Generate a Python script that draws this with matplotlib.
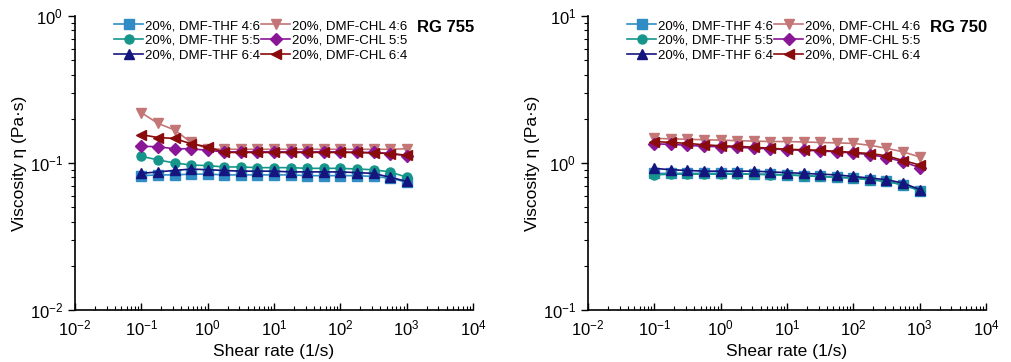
import matplotlib.pyplot as plt
from matplotlib.ticker import LogLocator, NullFormatter

plt.rcParams['font.family'] = ['Liberation Sans', 'DejaVu Sans']

shear_rate = [0.1, 0.178, 0.316, 0.562, 1, 1.78, 3.16, 5.62, 10, 17.8,
              31.6, 56.2, 100, 178, 316, 562, 1000]

labels = ['20%, DMF-THF 4:6', '20%, DMF-THF 5:5', '20%, DMF-THF 6:4',
          '20%, DMF-CHL 4:6', '20%, DMF-CHL 5:5', '20%, DMF-CHL 6:4']
colors = ['#2f8cc4', '#16968a', '#15157f', '#c47676', '#8a1596', '#8a0b0b']
markers = ['s', 'o', '^', 'v', 'D', '<']

# RG 755
rg755 = [
    [0.082, 0.083, 0.083, 0.084, 0.084, 0.083, 0.083, 0.083, 0.083, 0.083,
     0.082, 0.082, 0.082, 0.082, 0.081, 0.079, 0.074],
    [0.111, 0.105, 0.100, 0.097, 0.096, 0.094, 0.094, 0.093, 0.093, 0.093,
     0.092, 0.092, 0.092, 0.091, 0.090, 0.087, 0.080],
    [0.085, 0.087, 0.089, 0.091, 0.090, 0.089, 0.088, 0.088, 0.088, 0.087,
     0.087, 0.087, 0.087, 0.086, 0.085, 0.080, 0.075],
    [0.220, 0.186, 0.168, 0.138, 0.125, 0.124, 0.124, 0.124, 0.124, 0.124,
     0.124, 0.124, 0.124, 0.124, 0.124, 0.124, 0.125],
    [0.130, 0.129, 0.125, 0.125, 0.122, 0.119, 0.119, 0.119, 0.119, 0.119,
     0.119, 0.119, 0.119, 0.118, 0.118, 0.116, 0.112],
    [0.156, 0.149, 0.147, 0.135, 0.129, 0.118, 0.118, 0.118, 0.118, 0.118,
     0.118, 0.118, 0.118, 0.118, 0.117, 0.116, 0.113],
]

# RG 750
rg750 = [
    [0.85, 0.85, 0.85, 0.85, 0.85, 0.85, 0.84, 0.84, 0.83, 0.82,
     0.81, 0.80, 0.79, 0.77, 0.75, 0.71, 0.65],
    [0.83, 0.84, 0.84, 0.84, 0.84, 0.84, 0.84, 0.83, 0.83, 0.82,
     0.81, 0.80, 0.79, 0.77, 0.75, 0.71, 0.65],
    [0.92, 0.90, 0.89, 0.88, 0.88, 0.88, 0.88, 0.87, 0.86, 0.85,
     0.84, 0.83, 0.81, 0.79, 0.77, 0.73, 0.66],
    [1.47, 1.46, 1.45, 1.44, 1.43, 1.42, 1.41, 1.40, 1.40, 1.39,
     1.38, 1.37, 1.36, 1.32, 1.26, 1.19, 1.10],
    [1.35, 1.34, 1.32, 1.30, 1.29, 1.28, 1.26, 1.25, 1.23, 1.22,
     1.21, 1.19, 1.17, 1.14, 1.09, 1.02, 0.93],
    [1.40, 1.38, 1.36, 1.33, 1.31, 1.30, 1.28, 1.26, 1.24, 1.23,
     1.22, 1.20, 1.18, 1.16, 1.12, 1.04, 0.97],
]

x_decades = [1e-2, 1e-1, 1e0, 1e1, 1e2, 1e3, 1e4]

panels = [
    (rg755, 'RG 755', (1e-2, 1e0), [0.0742, 0.1436, 0.3937, 0.8122]),
    (rg750, 'RG 750', (1e-1, 1e1), [0.5816, 0.1436, 0.3937, 0.8122]),
]

fig = plt.figure(figsize=(10.11, 3.62), dpi=100)

for data, name, ylim, rect in panels:
    ax = fig.add_axes(rect)
    for vals, lab, c, m in zip(data, labels, colors, markers):
        ax.plot(shear_rate, vals, color=c, marker=m, markersize=6.5,
                linewidth=1.2, label=lab)

    ax.set_xscale('log')
    ax.set_yscale('log')
    ax.set_xlim(1e-2, 1e4)
    ax.set_ylim(*ylim)
    ax.spines['top'].set_visible(False)
    ax.spines['right'].set_visible(False)
    ax.spines['left'].set_linewidth(1.2)
    ax.spines['bottom'].set_linewidth(1.2)

    ax.set_xticks(x_decades)
    ax.set_yticks([ylim[0], ylim[0] * 10, ylim[1]])
    ax.xaxis.set_minor_locator(LogLocator(base=10, subs=range(2, 10), numticks=20))
    ax.xaxis.set_minor_formatter(NullFormatter())
    ax.yaxis.set_minor_formatter(NullFormatter())
    ax.set_xlim(1e-2, 1e4)
    ax.set_ylim(*ylim)
    ax.tick_params(axis='x', which='both', direction='in', pad=6)
    ax.tick_params(axis='y', which='both', direction='out')
    ax.tick_params(which='major', length=5, width=1, labelsize=12)
    ax.tick_params(which='minor', length=3, width=0.8)

    ax.set_xlabel('Shear rate (1/s)', fontsize=12.5, labelpad=4)
    ax.set_ylabel('Viscosity η (Pa·s)', fontsize=12.5, labelpad=2)

    ax.legend(ncol=2, frameon=False, fontsize=9.5, loc='upper left',
              bbox_to_anchor=(0.085, 1.005), handlelength=2.2,
              handletextpad=0.15, columnspacing=0.1, labelspacing=0.2,
              borderaxespad=0)
    ax.text(0.86, 0.985, name, transform=ax.transAxes, fontsize=12,
            fontweight='bold', va='top', ha='left')

fig.savefig('out.png', dpi=100)
